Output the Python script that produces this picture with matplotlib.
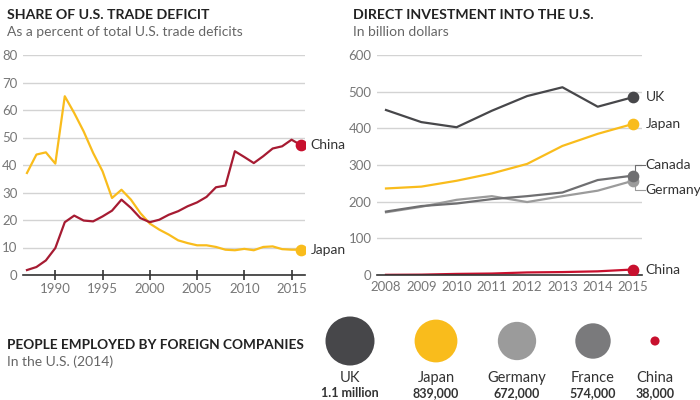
import numpy as np
import matplotlib.pyplot as plt

plt.rcParams['font.family'] = ['Lato', 'DejaVu Sans']

# Share of U.S. trade deficit (%)
years_a = list(range(1987, 2017))
japan_share = [37.1, 43.8, 44.6, 40.5, 65.0, 58.9, 52.2, 44.4, 37.7, 28.0,
               31.0, 27.4, 22.5, 18.7, 16.5, 14.7, 12.6, 11.6, 10.8, 10.8,
               10.2, 9.2, 9.0, 9.5, 9.0, 10.2, 10.4, 9.4, 9.2, 9.2]
china_share = [1.8, 2.9, 5.3, 9.8, 19.2, 21.6, 19.8, 19.5, 21.3, 23.4,
               27.4, 24.4, 20.7, 19.2, 20.1, 21.9, 23.2, 25.0, 26.4, 28.4,
               31.9, 32.5, 45.0, 42.9, 40.7, 43.2, 46.0, 46.8, 49.2, 47.2]

# Direct investment into the U.S. (billion dollars)
years_b = list(range(2008, 2016))
uk_inv = [450, 417, 403, 448, 488, 512, 459, 485]
japan_inv = [236, 241, 257, 277, 303, 352, 385, 412]
canada_inv = [173, 188, 195, 207, 215, 225, 259, 271]
germany_inv = [171, 186, 205, 215, 199, 215, 230, 257]
china_inv = [0.5, 1, 3, 4, 7, 8, 10, 15]

# People employed by foreign companies (2014)
countries = ['UK', 'Japan', 'Germany', 'France', 'China']
employed = [1100000, 839000, 672000, 574000, 38000]
employed_labels = ['1.1 million', '839,000', '672,000', '574,000', '38,000']

DARK = '#47474a'
YELLOW = '#f9bc1c'
RED = '#c8102e'
DARKRED = '#a61b32'
CANADA = '#6f6f71'
GERMANY = '#9b9b9b'
FRANCE = '#7a7a7c'
GRID = '#d3d3d3'
TICK = '#777777'

fig = plt.figure(figsize=(7, 4), dpi=100)
W, H = 700.0, 400.0


def box(x0, y0, x1, y1):
    return [x0 / W, 1 - y1 / H, (x1 - x0) / W, (y1 - y0) / H]


def style(ax):
    for s in ['top', 'right', 'left']:
        ax.spines[s].set_visible(False)
    ax.spines['bottom'].set_color('#333333')
    ax.spines['bottom'].set_linewidth(1.2)
    ax.grid(axis='y', color=GRID, linewidth=1)
    ax.set_axisbelow(True)
    ax.tick_params(axis='y', length=0, labelsize=9.5, labelcolor=TICK, pad=4)
    ax.tick_params(axis='x', labelsize=9.5, labelcolor=TICK)


# Left chart
ax1 = fig.add_axes(box(23, 55, 305, 275))
style(ax1)
ax1.plot(years_a, japan_share, color=YELLOW, lw=1.6, solid_joinstyle='round')
ax1.plot(years_a, china_share, color=DARKRED, lw=1.6, solid_joinstyle='round')
ax1.scatter([years_a[-1]], [japan_share[-1]], s=55, color=YELLOW, zorder=5)
ax1.scatter([years_a[-1]], [china_share[-1]], s=55, color=RED, zorder=5)
ax1.annotate('China', (years_a[-1], china_share[-1]), xytext=(7, 0),
             textcoords='offset points', va='center', fontsize=10, color='#333333')
ax1.annotate('Japan', (years_a[-1], japan_share[-1]), xytext=(7, 0),
             textcoords='offset points', va='center', fontsize=10, color='#333333')
ax1.set_xlim(1986.58, 2016.42)
ax1.set_ylim(0, 80)
ax1.set_yticks(range(0, 81, 10))
ax1.set_xticks(range(1990, 2016, 5))
ax1.tick_params(axis='x', direction='inout', length=7, width=1.2, color='#333333', pad=2)

# Right chart
ax2 = fig.add_axes(box(377, 55, 642, 275))
style(ax2)
ax2.plot(years_b, uk_inv, color=DARK, lw=1.6)
ax2.plot(years_b, japan_inv, color=YELLOW, lw=1.6)
ax2.plot(years_b, germany_inv, color=GERMANY, lw=1.6)
ax2.plot(years_b, canada_inv, color=CANADA, lw=1.6)
ax2.plot(years_b, china_inv, color=RED, lw=1.6)
for vals, c in [(uk_inv, DARK), (japan_inv, YELLOW), (germany_inv, GERMANY),
                (canada_inv, CANADA), (china_inv, RED)]:
    ax2.scatter([years_b[-1]], [vals[-1]], s=55, color=c, zorder=5)
for name, vals in [('UK', uk_inv), ('Japan', japan_inv), ('China', china_inv)]:
    ax2.annotate(name, (years_b[-1], vals[-1]), xytext=(9, 0),
                 textcoords='offset points', va='center', fontsize=10,
                 color='#333333', annotation_clip=False)
# leader lines for Canada and Germany
xl = years_b[-1] + 0.05
xe = years_b[-1] + 0.33
ax2.plot([xl, xl, xe], [canada_inv[-1] + 8, 300, 300], color=CANADA, lw=0.8, clip_on=False)
ax2.plot([xl, xl, xe], [germany_inv[-1] - 8, 232, 232], color=GERMANY, lw=0.8, clip_on=False)
ax2.text(xe + 0.03, 300, 'Canada', va='center', fontsize=10, color='#333333')
ax2.text(xe + 0.03, 232, 'Germany', va='center', fontsize=10, color='#333333')
ax2.set_xlim(2007.745, 2015.255)
ax2.set_ylim(0, 600)
ax2.set_yticks(range(0, 601, 100))
ax2.set_xticks(years_b)
ax2.tick_params(axis='x', length=0, pad=4)

# Titles
fig.text(7 / W, 1 - 15 / H, 'SHARE OF U.S. TRADE DEFICIT', fontsize=10.2,
         fontweight='bold', color='#222222', va='center')
fig.text(7 / W, 1 - 32 / H, 'As a percent of total U.S. trade deficits', fontsize=10,
         color='#666666', va='center')
fig.text(353 / W, 1 - 15 / H, 'DIRECT INVESTMENT INTO THE U.S.', fontsize=10.2,
         fontweight='bold', color='#222222', va='center')
fig.text(353 / W, 1 - 32 / H, 'In billion dollars', fontsize=10,
         color='#666666', va='center')
fig.text(7 / W, 1 - 345 / H, 'PEOPLE EMPLOYED BY FOREIGN COMPANIES', fontsize=9.8,
         fontweight='bold', color='#222222', va='center')
fig.text(7 / W, 1 - 362 / H, 'In the U.S. (2014)', fontsize=10,
         color='#666666', va='center')

# Bubbles (area proportional)
ax3 = fig.add_axes([0, 0, 1, 1])
ax3.set_xlim(0, W)
ax3.set_ylim(H, 0)
ax3.axis('off')
bx = [350, 436, 517, 593, 655]
bcolors = [DARK, YELLOW, GERMANY, FRANCE, RED]
r_max = 24.5
for i, (c, v) in enumerate(zip(countries, employed)):
    r = r_max * np.sqrt(v / employed[0])
    ax3.add_patch(plt.Circle((bx[i], 341), r, color=bcolors[i], lw=0))
    ax3.text(bx[i], 378, c, ha='center', va='center', fontsize=10.5, color='#333333')
    ax3.text(bx[i], 393, employed_labels[i], ha='center', va='center', fontsize=9,
             fontweight='bold', color='#333333')

fig.savefig('out.png', dpi=100)
